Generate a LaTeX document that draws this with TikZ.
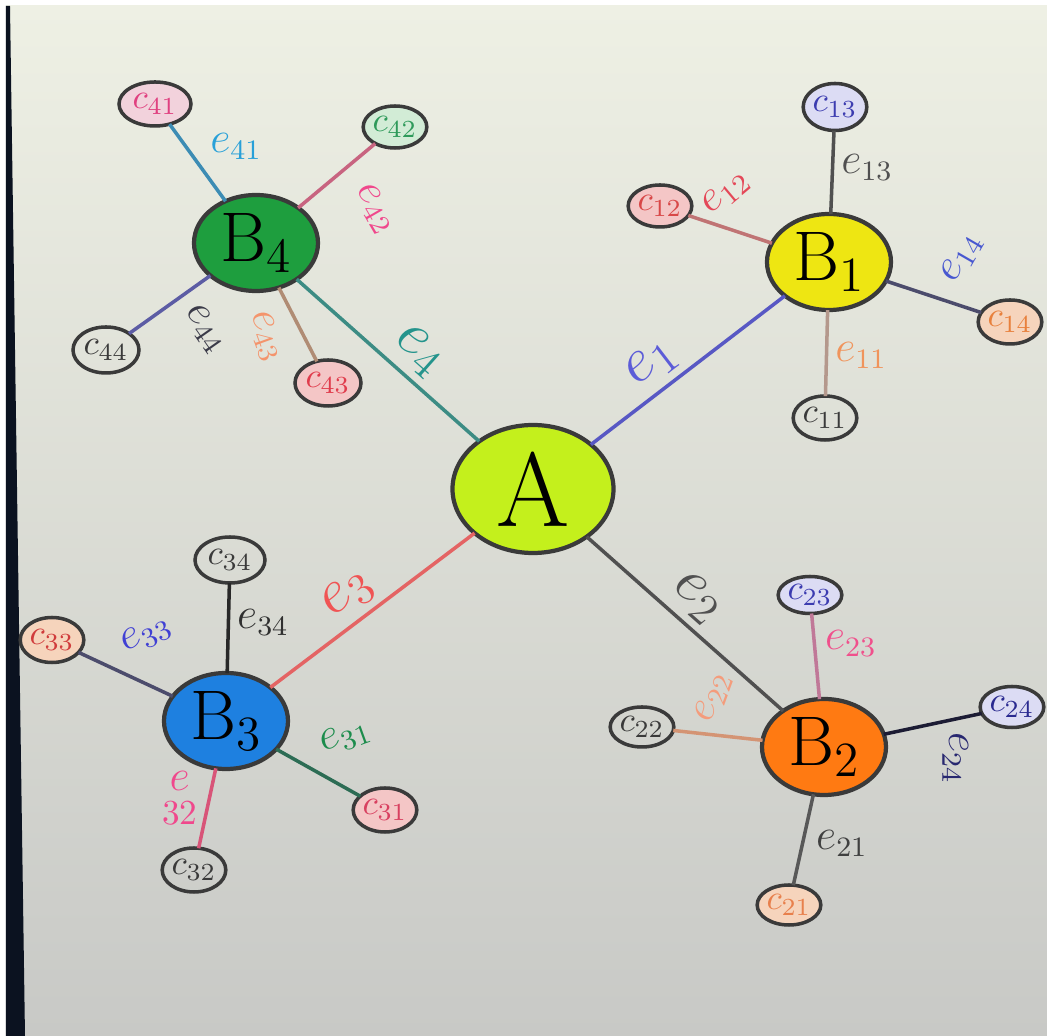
\documentclass[tikz,border=0pt]{standalone}
\usepackage{anyfontsize}
\usepackage{graphicx}
\usepackage{tkz-graph}
\usetikzlibrary{arrows}
\usetikzlibrary{shapes}

\definecolor{paperTop}{HTML}{EEF0E4}
\definecolor{paperBot}{HTML}{C8C9C6}
\definecolor{deskDark}{HTML}{0B1220}
\definecolor{inkGrey}{HTML}{3A3A3A}
\definecolor{limeA}{HTML}{C4F01C}
\definecolor{yellowB}{HTML}{EEE612}
\definecolor{orangeB}{HTML}{FF7A12}
\definecolor{blueB}{HTML}{1E80E0}
\definecolor{greenB}{HTML}{1E9E3E}
\definecolor{pinkLeaf}{HTML}{F2D2DC}
\definecolor{mintLeaf}{HTML}{D2ECD6}
\definecolor{roseLeaf}{HTML}{F4C6C6}
\definecolor{lavLeaf}{HTML}{DCDCF4}
\definecolor{peachLeaf}{HTML}{F6D4BC}
\definecolor{ink41}{HTML}{E04080}
\definecolor{ink42}{HTML}{2E9A5A}
\definecolor{ink43}{HTML}{E03C4C}
\definecolor{ink13}{HTML}{3C3CB0}
\definecolor{ink12}{HTML}{D84848}
\definecolor{ink14}{HTML}{E8803C}
\definecolor{ink33}{HTML}{D03C3C}
\definecolor{ink31}{HTML}{D84060}
\definecolor{ink24}{HTML}{2A2A90}
\definecolor{ink21}{HTML}{E8804C}
\definecolor{pen41}{HTML}{3C8CB4}\definecolor{tag41}{HTML}{28A0D8}
\definecolor{pen42}{HTML}{C86480}\definecolor{tag42}{HTML}{F0488C}
\definecolor{pen43}{HTML}{B08C74}\definecolor{tag43}{HTML}{F4946C}
\definecolor{pen44}{HTML}{5C5CA4}\definecolor{tag44}{HTML}{3A3A48}
\definecolor{pen4}{HTML}{3C8C84}\definecolor{tag4}{HTML}{24948C}
\definecolor{pen11}{HTML}{B4988C}\definecolor{tag11}{HTML}{F0945C}
\definecolor{pen12}{HTML}{C07474}\definecolor{tag12}{HTML}{E44858}
\definecolor{pen13}{HTML}{505050}\definecolor{tag13}{HTML}{505050}
\definecolor{pen14}{HTML}{4C4C6C}\definecolor{tag14}{HTML}{4858D0}
\definecolor{pen1}{HTML}{5858C4}\definecolor{tag1}{HTML}{5C5CD8}
\definecolor{pen21}{HTML}{585858}\definecolor{tag21}{HTML}{404040}
\definecolor{pen22}{HTML}{D49474}\definecolor{tag22}{HTML}{F49C7C}
\definecolor{pen23}{HTML}{C07898}\definecolor{tag23}{HTML}{F0508C}
\definecolor{pen24}{HTML}{1C1C34}\definecolor{tag24}{HTML}{282870}
\definecolor{pen2}{HTML}{505050}\definecolor{tag2}{HTML}{505050}
\definecolor{pen31}{HTML}{2C6C54}\definecolor{tag31}{HTML}{1C8C4C}
\definecolor{pen32}{HTML}{D85478}\definecolor{tag32}{HTML}{F0488C}
\definecolor{pen33}{HTML}{4C4C6C}\definecolor{tag33}{HTML}{4040D4}
\definecolor{pen34}{HTML}{282828}\definecolor{tag34}{HTML}{303030}
\definecolor{pen3}{HTML}{E46464}\definecolor{tag3}{HTML}{F05454}

\begin{document}
\begin{tikzpicture}[scale = 10]
	\useasboundingbox (0,0) rectangle (1.047,1.036);
	\fill[white] (0,0) rectangle (1.047,1.036);
	\shade[top color = paperTop, bottom color = paperBot] (0.006,0) rectangle (1.047,1.030);
	\fill[deskDark] (0.006,1.030) -- (0.010,1.030) -- (0.025,0) -- (0.006,0) -- cycle;
	\tikzstyle{VertexStyle} = []
	\tikzstyle{EdgeStyle} = []
	\tikzstyle{centreStyle}=[shape = ellipse, draw = inkGrey, line width = 1.2pt, fill = limeA, minimum width = 1.61cm, minimum height = 1.28cm, inner sep = 0pt, font = \fontsize{30}{30}\selectfont]
	\tikzstyle{hubStyle}=[shape = ellipse, draw = inkGrey, line width = 1.2pt, minimum width = 1.24cm, minimum height = 0.96cm, inner sep = 0pt, font = \fontsize{20}{20}\selectfont]
	\tikzstyle{leafStyle}=[shape = ellipse, draw = inkGrey, line width = 1pt, minimum width = 0.6cm, minimum height = 0.44cm, inner sep = 0pt, text = inkGrey, font = \fontsize{10}{10}\selectfont]
	\tikzstyle{edgeLabel}=[fill = none, inner sep = 2pt, font = \fontsize{12}{12}\selectfont]
	\tikzstyle{mainLabel}=[fill = none, inner sep = 2pt, sloped, font = \fontsize{18}{18}\selectfont]
	\Vertex[style = centreStyle, x = 0.533, y = 0.547, L = {A}]{A}
	\Vertex[style = {hubStyle, fill = yellowB}, x = 0.829, y = 0.774, L = {B$_1$}]{B1}
	\Vertex[style = {hubStyle, fill = orangeB}, x = 0.824, y = 0.289, L = {B$_2$}]{B2}
	\Vertex[style = {hubStyle, fill = blueB}, x = 0.226, y = 0.315, L = {B$_3$}]{B3}
	\Vertex[style = {hubStyle, fill = greenB}, x = 0.256, y = 0.793, L = {B$_4$}]{B4}
	\Vertex[style = {leafStyle, fill = pinkLeaf, text = ink41, minimum width = 0.72cm}, x = 0.155, y = 0.932, L = {$c_{41}$}]{c41}
	\Vertex[style = {leafStyle, fill = mintLeaf, text = ink42, minimum width = 0.48cm, minimum height = 0.42cm}, x = 0.395, y = 0.909, L = {$c_{42}$}]{c42}
	\Vertex[style = {leafStyle, fill = roseLeaf, text = ink43, minimum width = 0.66cm, minimum height = 0.46cm}, x = 0.328, y = 0.653, L = {$c_{43}$}]{c43}
	\Vertex[style = {leafStyle, minimum width = 0.66cm, minimum height = 0.46cm}, x = 0.106, y = 0.686, L = {$c_{44}$}]{c44}
	\Vertex[style = leafStyle, x = 0.825, y = 0.618, L = {$c_{11}$}]{c11}
	\Vertex[style = {leafStyle, fill = roseLeaf, text = ink12, minimum width = 0.56cm, minimum height = 0.42cm}, x = 0.660, y = 0.830, L = {$c_{12}$}]{c12}
	\Vertex[style = {leafStyle, fill = lavLeaf, text = ink13, minimum width = 0.56cm, minimum height = 0.47cm}, x = 0.835, y = 0.929, L = {$c_{13}$}]{c13}
	\Vertex[style = {leafStyle, fill = peachLeaf, text = ink14}, x = 1.010, y = 0.714, L = {$c_{14}$}]{c14}
	\Vertex[style = {leafStyle, fill = peachLeaf, text = ink21, minimum width = 0.52cm, minimum height = 0.40cm}, x = 0.789, y = 0.131, L = {$c_{21}$}]{c21}
	\Vertex[style = {leafStyle, minimum width = 0.57cm, minimum height = 0.40cm}, x = 0.642, y = 0.309, L = {$c_{22}$}]{c22}
	\Vertex[style = {leafStyle, fill = lavLeaf, text = ink13, minimum width = 0.55cm, minimum height = 0.37cm}, x = 0.810, y = 0.441, L = {$c_{23}$}]{c23}
	\Vertex[style = {leafStyle, fill = lavLeaf, text = ink24, minimum width = 0.50cm, minimum height = 0.41cm}, x = 1.012, y = 0.329, L = {$c_{24}$}]{c24}
	\Vertex[style = {leafStyle, fill = roseLeaf, text = ink31}, x = 0.385, y = 0.226, L = {$c_{31}$}]{c31}
	\Vertex[style = {leafStyle, minimum width = 0.55cm}, x = 0.194, y = 0.166, L = {$c_{32}$}]{c32}
	\Vertex[style = {leafStyle, fill = peachLeaf, text = ink33, minimum width = 0.55cm, minimum height = 0.45cm}, x = 0.052, y = 0.396, L = {$c_{33}$}]{c33}
	\Vertex[style = {leafStyle, minimum width = 0.70cm, minimum height = 0.46cm}, x = 0.230, y = 0.476, L = {$c_{34}$}]{c34}
	\Edge[label = {$e_4$}, labelstyle = {mainLabel, auto=left, pos=0.57, text=tag4}, style = {draw=pen4, line width=1pt}](B4)(A)
	\Edge[label = {$e_1$}, labelstyle = {mainLabel, auto=left, pos=0.6, text=tag1}, style = {draw=pen1, line width=1pt}](B1)(A)
	\Edge[label = {$e_2$}, labelstyle = {mainLabel, auto=left, pos=0.47, text=tag2}, style = {draw=pen2, line width=1pt}](A)(B2)
	\Edge[label = {$e_3$}, labelstyle = {mainLabel, auto=left, pos=0.54, text=tag3}, style = {draw=pen3, line width=1pt}](A)(B3)
	\Edge[label = {$e_{41}$}, labelstyle = {edgeLabel, auto=right, pos=0.43, text=tag41}, style = {draw=pen41, line width=1pt}](B4)(c41)
	\Edge[label = {\rotatebox{-60}{$e_{42}$}}, labelstyle = {edgeLabel, auto=right, pos=0.57, text=tag42}, style = {draw=pen42, line width=1pt}](B4)(c42)
	\Edge[label = {\rotatebox{-70}{$e_{43}$}}, labelstyle = {edgeLabel, auto=right, pos=0.25, inner sep=0pt, text=tag43}, style = {draw=pen43, line width=1pt}](B4)(c43)
	\Edge[label = {\rotatebox{-55}{$e_{44}$}}, labelstyle = {edgeLabel, auto=left, pos=0.4, inner sep=0pt, text=tag44}, style = {draw=pen44, line width=1pt}](B4)(c44)
	\Edge[label = {$e_{11}$}, labelstyle = {edgeLabel, auto=left, pos=0.53, text=tag11}, style = {draw=pen11, line width=1pt}](B1)(c11)
	\Edge[label = {\rotatebox{40}{$e_{12}$}}, labelstyle = {edgeLabel, pos=0.55, anchor=south, text=tag12}, style = {draw=pen12, line width=1pt}](B1)(c12)
	\Edge[label = {$e_{13}$}, labelstyle = {edgeLabel, auto=right, pos=0.56, text=tag13}, style = {draw=pen13, line width=1pt}](B1)(c13)
	\Edge[label = {\rotatebox{60}{$e_{14}$}}, labelstyle = {edgeLabel, auto=left, pos=0.45, text=tag14}, style = {draw=pen14, line width=1pt}](B1)(c14)
	\Edge[label = {$e_{21}$}, labelstyle = {edgeLabel, auto=left, pos=0.3, text=tag21}, style = {draw=pen21, line width=1pt}](B2)(c21)
	\Edge[label = {\rotatebox{70}{$e_{22}$}}, labelstyle = {edgeLabel, pos=0.55, anchor=south, text=tag22}, style = {draw=pen22, line width=1pt}](B2)(c22)
	\Edge[label = {$e_{23}$}, labelstyle = {edgeLabel, auto=right, pos=0.4, text=tag23}, style = {draw=pen23, line width=1pt}](B2)(c23)
	\Edge[label = {\rotatebox{-90}{$e_{24}$}}, labelstyle = {edgeLabel, auto=right, pos=0.51, text=tag24}, style = {draw=pen24, line width=1pt}](B2)(c24)
	\Edge[label = {\rotatebox{20}{$e_{31}$}}, labelstyle = {edgeLabel, auto=left, pos=0.38, text=tag31}, style = {draw=pen31, line width=1pt}](B3)(c31)
	\Edge[label = {\shortstack{$e$\\{\fontsize{10}{10}\selectfont 32}}}, labelstyle = {edgeLabel, auto=right, pos=0.78, inner sep=1pt, text=tag32}, style = {draw=pen32, line width=1pt}](B3)(c32)
	\Edge[label = {\rotatebox{25}{$e_{33}$}}, labelstyle = {edgeLabel, auto=right, pos=0.68, text=tag33}, style = {draw=pen33, line width=1pt}](B3)(c33)
	\Edge[label = {$e_{34}$}, labelstyle = {edgeLabel, auto=right, pos=0.56, text=tag34}, style = {draw=pen34, line width=1pt}](B3)(c34)
\end{tikzpicture}
\end{document}
